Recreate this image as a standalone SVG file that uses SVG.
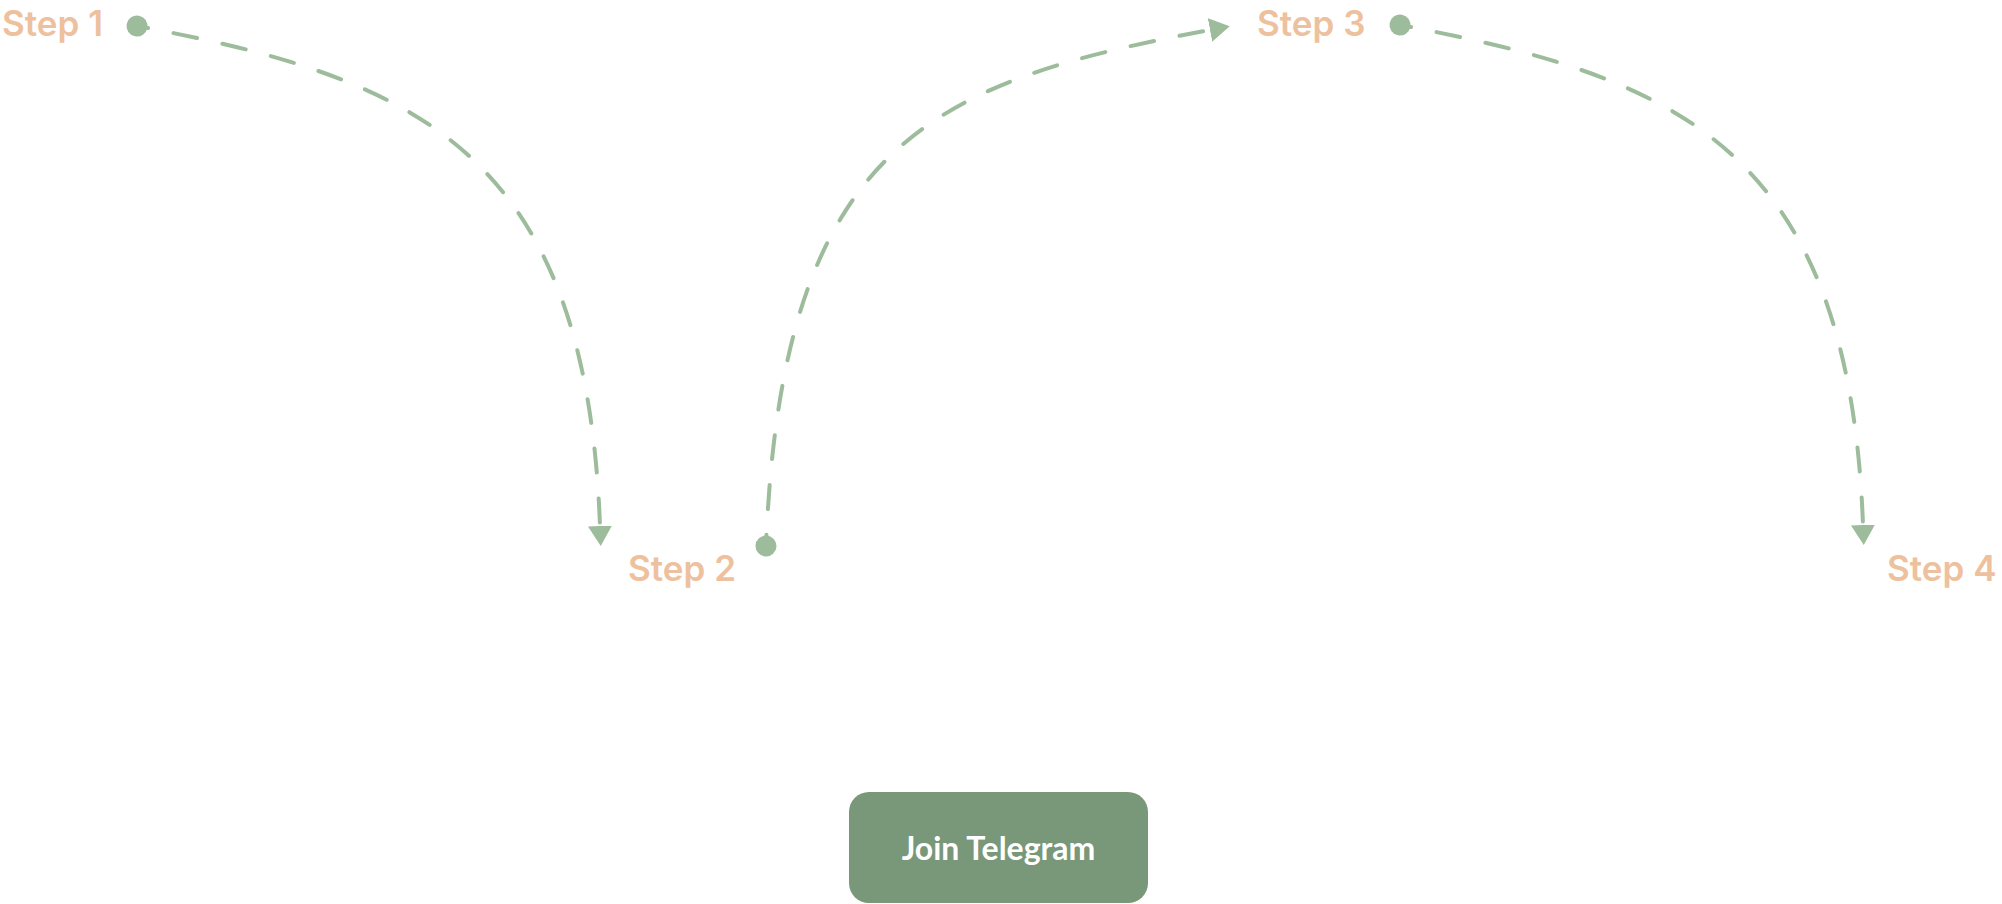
<svg xmlns="http://www.w3.org/2000/svg" width="2002" height="904" viewBox="0 0 2002 904">
  <style>
    .step { font-family: Inter, Lato, sans-serif; font-weight: 600; font-size: 35px; fill: #EEC19E; }
    .conn { fill: none; stroke: #9CBC9B; stroke-width: 4; stroke-linecap: round; stroke-dasharray: 24 26; stroke-dashoffset: 13; marker-start: url(#dot); marker-end: url(#arrow); }
    .btn { fill: #799779; }
    .btn-text { font-family: Lato, "Open Sans", sans-serif; font-weight: 700; font-size: 32px; fill: #FFFFFF; }
  </style>
  <defs>
    <marker id="arrow" markerUnits="userSpaceOnUse" viewBox="0 0 20 24" refX="0" refY="12" markerWidth="20" markerHeight="24" orient="auto">
      <path d="M0,0 L20,12 L0,24 Z" fill="#9CBC9B"/>
    </marker>
    <marker id="dot" markerUnits="userSpaceOnUse" viewBox="0 0 24 24" refX="12" refY="12" markerWidth="24" markerHeight="24" orient="auto">
      <circle cx="12" cy="12" r="10.5" fill="#9CBC9B"/>
    </marker>
  </defs>
  <rect width="2002" height="904" fill="#FFFFFF"/>

  <g id="connectors">
    <path class="conn" d="M137,26 C415,78 586,150 600,526"/>
    <path class="conn" d="M766,546 C782,145 930,82 1210,30"/>
    <path class="conn" d="M1400,25 C1678,77 1849,149 1863,525"/>
  </g>

  <g id="step1">
    <text class="step" x="2" y="36">Step 1</text>
  </g>
  <g id="step2">
    <text class="step" x="628" y="581">Step 2</text>
  </g>
  <g id="step3">
    <text class="step" x="1257" y="36">Step 3</text>
  </g>
  <g id="step4">
    <text class="step" x="1887" y="581">Step 4</text>
  </g>

  <g id="join-telegram">
    <rect class="btn" x="849" y="792" width="299" height="111" rx="20" ry="20"/>
    <text class="btn-text" x="998.5" y="860" text-anchor="middle">Join Telegram</text>
  </g>
</svg>
